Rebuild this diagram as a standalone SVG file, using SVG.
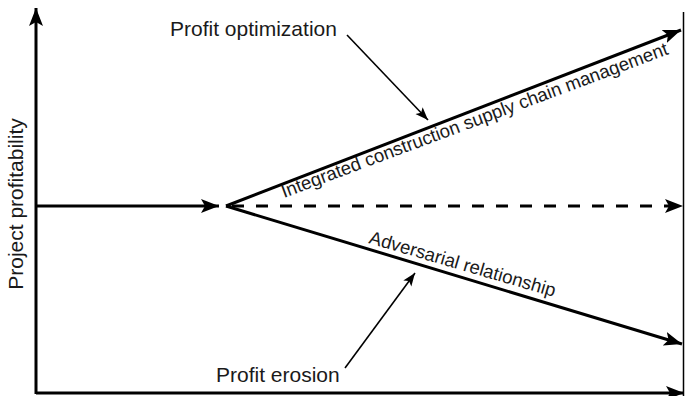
<svg xmlns="http://www.w3.org/2000/svg" width="686" height="396" viewBox="0 0 686 396">
<style>
.lbl{font-family:"Liberation Sans",Arial,sans-serif;fill:#1a1a1a}
.big{font-size:21px}
.rot{font-size:18.6px}
.main{stroke:#000;stroke-width:3;fill:none}
.thin{stroke:#000;stroke-width:1.6;fill:none}
</style>
<defs>
<marker id="ah" markerUnits="userSpaceOnUse" markerWidth="20" markerHeight="16" viewBox="0 0 20 16" refX="18" refY="8" orient="auto">
<path d="M0,1 L18,8 L0,15 L4,8 Z" fill="#000"/>
</marker>
<marker id="ahs" markerUnits="userSpaceOnUse" markerWidth="14" markerHeight="12" viewBox="0 0 14 12" refX="13" refY="6" orient="auto">
<path d="M0,1 L13,6 L0,11 L3,6 Z" fill="#000"/>
</marker>
</defs>
<rect width="686" height="396" fill="#fff"/>
<g id="connectors">
<line class="main" x1="36" y1="394" x2="36" y2="8" marker-end="url(#ah)"/>
<line class="main" x1="36" y1="393" x2="684" y2="393" marker-end="url(#ah)"/>
<line x1="683.5" y1="12" x2="683.5" y2="396" stroke="#000" stroke-width="1.5"/>
<line class="main" x1="36" y1="206" x2="219" y2="206" marker-end="url(#ah)"/>
<line class="main" x1="226" y1="206" x2="681" y2="30" marker-end="url(#ah)"/>
<line class="main" x1="226" y1="206" x2="682" y2="344" marker-end="url(#ah)"/>
<line class="main" x1="232" y1="206" x2="683" y2="206" stroke-dasharray="12 12" marker-end="url(#ah)"/>
<line class="thin" x1="347" y1="35" x2="428" y2="120" marker-end="url(#ahs)"/>
<line class="thin" x1="345" y1="368" x2="415" y2="273" marker-end="url(#ahs)"/>
</g>
<g id="y-label"><text class="lbl big" transform="translate(23,204) rotate(-90)" text-anchor="middle">Project profitability</text></g>
<g id="profit-optimization"><text class="lbl big" x="170" y="36">Profit optimization</text></g>
<g id="profit-erosion"><text class="lbl big" x="216" y="382">Profit erosion</text></g>
<g id="integrated"><text class="lbl rot" transform="translate(284,198) rotate(-20.5)">Integrated construction supply chain management</text></g>
<g id="adversarial"><text class="lbl rot" transform="translate(368,243) rotate(16.2)">Adversarial relationship</text></g>
</svg>
